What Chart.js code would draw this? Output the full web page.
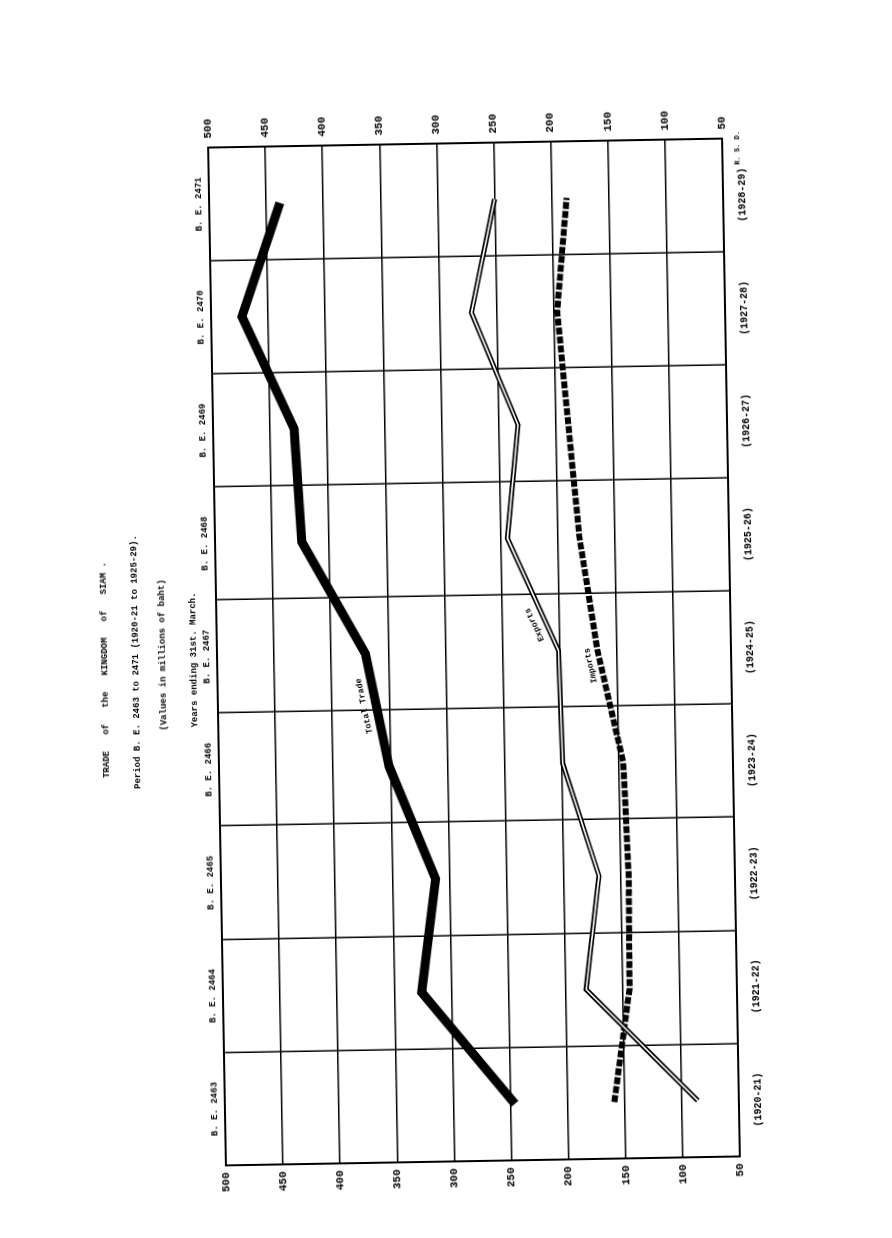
<!DOCTYPE html>
<html>
<head>
<meta charset="utf-8">
<title>Trade of the Kingdom of Siam</title>
<script src="https://cdn.jsdelivr.net/npm/chart.js@4.4.0/dist/chart.umd.min.js"></script>
<style>
html, body { margin: 0; padding: 0; background: #fff; width: 892px; height: 1238px; overflow: hidden; }
/* the sheet is typed sideways, so the whole chart is turned a quarter turn (and a little more, like the scan) */
#wrap { position: absolute; left: -145px; top: 206px; width: 1238px; height: 892px;
        transform: rotate(-91deg); transform-origin: 50% 50%; background: #fff; }
</style>
</head>
<body>
<div id="wrap"><canvas id="myChart" width="1238" height="892"></canvas></div>
<script>
// Chart data (millions of baht, years ending 31st March)
var years = ['(1920-21)', '(1921-22)', '(1922-23)', '(1923-24)', '(1924-25)',
             '(1925-26)', '(1926-27)', '(1927-28)', '(1928-29)'];
var beYears = ['B. E. 2463', 'B. E. 2464', 'B. E. 2465', 'B. E. 2466', 'B. E. 2467',
               'B. E. 2468', 'B. E. 2469', 'B. E. 2470', 'B. E. 2471'];
var totalTrade = [246, 326, 312, 351, 370, 424, 429, 473, 438];
var exportsValues = [86, 182, 169, 199, 201, 244, 233, 272, 250];
var importsValues = [159, 144, 143, 146, 167, 181, 189, 197, 187];
var valueTicks = [50, 100, 150, 200, 250, 300, 350, 400, 450, 500];

var MONO = '"Liberation Mono", "DejaVu Sans Mono", monospace';
var ROT = 91 * Math.PI / 180;

// page point -> canvas point (undo the css rotation around the plot centre)
function pageToCanvas(x, y) {
    var dx = x - 474, dy = y - 652;
    return {
        u: 619 + dx * Math.cos(ROT) - dy * Math.sin(ROT),
        v: 446 + dx * Math.sin(ROT) + dy * Math.cos(ROT)
    };
}

var titleLines = [
    { text: 'TRADE   of   the   KINGDOM   of   SIAM .', x: 105, y: 670 },
    { text: 'Period B. E. 2463 to 2471 (1920-21 to 1925-29).', x: 136, y: 662 },
    { text: '(Values in millions of baht)', x: 163, y: 655 },
    { text: 'Years ending 31st. March.', x: 194, y: 660 }
];

// labels written along the lines: dataset index, segment start, position in segment, offset
var lineLabels = [
    { ds: 0, i: 3, t: 0.56, off: 12, text: 'Total Trade' },
    { ds: 1, i: 4, t: 0.27, off: 11, text: 'Exports' },
    { ds: 3, i: 3, t: 0.88, off: 10, text: 'Imports' }
];

var sheetText = {
    id: 'sheetText',
    afterDraw: function(chart) {
        var ctx = chart.ctx;
        ctx.save();
        ctx.fillStyle = '#000';
        ctx.textAlign = 'center';
        ctx.textBaseline = 'middle';

        ctx.font = 'bold 9px ' + MONO;
        titleLines.forEach(function(l) {
            var p = pageToCanvas(l.x, l.y);
            ctx.fillText(l.text, p.u, p.v);
        });

        ctx.font = 'bold 8.5px ' + MONO;
        lineLabels.forEach(function(l) {
            var pts = chart.getDatasetMeta(l.ds).data;
            var a = pts[l.i], b = pts[l.i + 1];
            var ang = Math.atan2(b.y - a.y, b.x - a.x);
            var x = a.x + (b.x - a.x) * l.t + Math.sin(ang) * l.off;
            var y = a.y + (b.y - a.y) * l.t - Math.cos(ang) * l.off;
            ctx.save();
            ctx.translate(x, y);
            ctx.rotate(ang);
            ctx.fillText(l.text, 0, 0);
            ctx.restore();
        });

        ctx.font = 'bold 7px ' + MONO;
        var r = pageToCanvas(737, 148);
        ctx.fillText('R. S. D.', r.u, r.v);
        ctx.restore();
    }
};

var tickFont = { family: MONO, size: 10, weight: 'bold' };
var valueFont = { family: MONO, size: 11, weight: 'bold' };

var ctx = document.getElementById('myChart').getContext('2d');
var myChart = new Chart(ctx, {
    type: 'line',
    data: {
        labels: years,
        datasets: [{
            label: 'Total Trade',
            data: totalTrade,
            borderColor: '#000',
            borderWidth: 9,
            order: 1
        }, {
            label: 'Exports',
            data: exportsValues,
            borderColor: '#000',
            borderWidth: 5,
            order: 3
        }, {
            label: 'Exports (inner)',
            data: exportsValues,
            borderColor: '#fff',
            borderWidth: 1.6,
            order: 2
        }, {
            label: 'Imports',
            data: importsValues,
            borderColor: '#000',
            borderWidth: 6,
            borderDash: [7, 2],
            order: 4
        }]
    },
    options: {
        responsive: false,
        animation: false,
        layout: { padding: 0 },
        elements: {
            line: { tension: 0, fill: false, borderJoinStyle: 'miter', borderCapStyle: 'butt' },
            point: { radius: 0, hoverRadius: 0 }
        },
        plugins: {
            legend: { display: false },
            tooltip: { enabled: false },
            title: { display: false }
        },
        scales: {
            x: {
                type: 'category',
                position: 'bottom',
                offset: true,
                grid: { offset: true, color: '#000', lineWidth: 1.5, drawTicks: false },
                border: { display: true, color: '#000', width: 2 },
                ticks: { color: '#000', font: tickFont, padding: 13, maxRotation: 0, minRotation: 0, autoSkip: false },
                afterFit: function(s) { s.height = 189; }
            },
            x2: {
                type: 'category',
                position: 'top',
                labels: beYears,
                offset: true,
                grid: { display: false, drawTicks: false },
                border: { display: true, color: '#000', width: 2 },
                ticks: { color: '#000', font: { family: MONO, size: 9, weight: 'bold' }, padding: 5, maxRotation: 0, minRotation: 0, autoSkip: false },
                afterFit: function(s) { s.height = 189; }
            },
            y: {
                type: 'linear',
                position: 'left',
                min: 50,
                max: 500,
                afterBuildTicks: function(s) { s.ticks = valueTicks.map(function(v) { return { value: v }; }); },
                grid: { color: '#000', lineWidth: 1.5, drawTicks: false },
                border: { display: true, color: '#000', width: 2 },
                ticks: { color: '#000', font: valueFont, padding: 7 },
                afterFit: function(s) { s.width = 110; }
            },
            y2: {
                type: 'linear',
                position: 'right',
                min: 50,
                max: 500,
                afterBuildTicks: function(s) { s.ticks = valueTicks.map(function(v) { return { value: v }; }); },
                grid: { display: false, drawTicks: false },
                border: { display: true, color: '#000', width: 2 },
                ticks: { color: '#000', font: valueFont, padding: 9 },
                afterFit: function(s) { s.width = 110; }
            }
        }
    },
    plugins: [sheetText]
});
</script>
</body>
</html>
